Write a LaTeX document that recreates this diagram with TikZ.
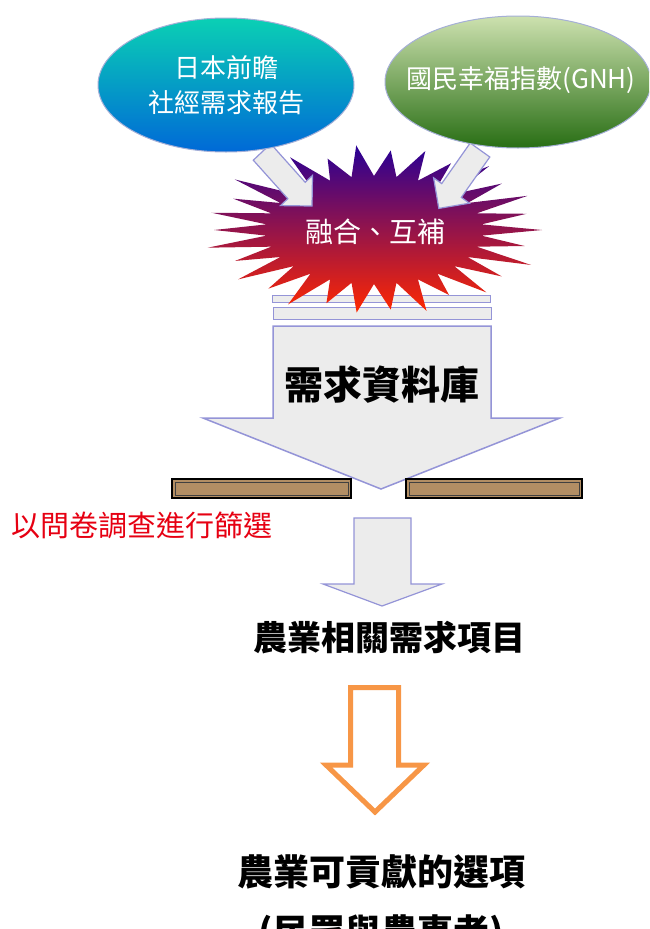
\documentclass[tikz,border=0pt]{standalone}
\usepackage{fontspec}
\newfontfamily\cjk{Noto Sans CJK TC}
\usetikzlibrary{shapes.geometric}
\definecolor{arrfill}{RGB}{236,236,236}
\definecolor{arredge}{RGB}{148,148,215}
\definecolor{elledge}{RGB}{165,175,215}
\definecolor{bluetop}{RGB}{10,208,180}
\definecolor{bluemid}{RGB}{20,180,225}
\definecolor{bluebot}{RGB}{0,105,215}
\definecolor{greentop}{RGB}{205,225,175}
\definecolor{greenmid}{RGB}{125,165,75}
\definecolor{greenbot}{RGB}{40,110,20}
\definecolor{sbtop}{RGB}{40,0,150}
\definecolor{sbmid}{RGB}{140,0,160}
\definecolor{sbbot}{RGB}{255,40,0}
\definecolor{brownbar}{RGB}{178,142,100}
\definecolor{orangearr}{RGB}{247,150,70}
\definecolor{redtext}{RGB}{230,0,18}
\tikzset{
  blockarr/.style={fill=arrfill, draw=arredge, line width=1.2pt, line join=miter},
  thinbar/.style={fill=arrfill, draw=arredge, line width=1pt},
  brownbox/.style={fill=brownbar, draw=black, line width=1.4pt},
  ellbox/.style={ellipse, draw=elledge, line width=1pt, inner sep=0pt},
  elltext/.style={text=white, align=center, inner sep=0pt, font=\cjk\fontsize{26}{35}\selectfont},
  bigtext/.style={font=\cjk\bfseries\fontsize{36}{40}\selectfont, text=black, inner sep=0pt}
}
\begin{document}
\begin{tikzpicture}[x=1pt,y=-1pt]
\useasboundingbox (0,0) rectangle (649,929);
\clip (0,0) rectangle (649,929);
% thin bars under the starburst
\filldraw[thinbar] (272,295) rectangle (490,302);
\filldraw[thinbar] (273,307) rectangle (491,319);
% starburst
\begin{scope}[shift={(374,230)},xscale=2]
\shade[top color=sbtop, middle color=sbmid, bottom color=sbbot]
  (0:84) \foreach \r [count=\i] in {77,86,79,84,75,85,80,83,77,86,79,84,76,85,80,83,77,86,79,84,75,85,80,83,77,86,79,84,78}
  { -- ({\i*12-6}:54) -- ({\i*12}:\r) } -- (354:54) -- cycle;
\end{scope}
\node[font=\cjk\fontsize{28}{30}\selectfont, text=white] (fuse) at (375,232) {融合、互補};
% small diagonal arrows
\filldraw[blockarr] (312,206) -- (312.5,175.4) -- (305.2,182.3) -- (270.7,143.8) -- (253.3,160.2) -- (287.8,198.7) -- (280.5,205.6) -- cycle;
\filldraw[blockarr] (438.8,208.4) -- (469.4,203.2) -- (461.3,197.4) -- (489.8,157) -- (470.2,143) -- (441.7,183.6) -- (433.6,177.8) -- cycle;
% ellipses
\node[ellbox, minimum width=256pt, minimum height=134pt, top color=bluetop, middle color=bluemid, bottom color=bluebot] (jp) at (226,85) {};
\node[elltext] (jptext) at (jp.center) {日本前瞻\\社經需求報告};
\node[ellbox, minimum width=266pt, minimum height=132pt, top color=greentop, middle color=greenmid, bottom color=greenbot] (gnh) at (518,82) {};
\node[elltext] (gnhtext) at (521,80) {國民幸福指數(GNH)};
% big arrow
\filldraw[blockarr, line width=1.5pt] (273,326) -- (491,326) -- (491,418) -- (560,418) -- (381,489) -- (203,418) -- (273,418) -- cycle;
\node[bigtext, font=\cjk\bfseries\fontsize{39}{42}\selectfont] (db) at (382,385) {需求資料庫};
% brown bars
\filldraw[brownbox] (172,479) rectangle (351,498);
\draw[black!75, line width=0.6pt] (175,482) rectangle (348,495);
\filldraw[brownbox] (406,479) rectangle (582,498);
\draw[black!75, line width=0.6pt] (409,482) rectangle (579,495);
% red text
\node[font=\cjk\fontsize{29}{32}\selectfont, text=redtext, inner sep=0pt] (survey) at (142,525) {以問卷調查進行篩選};
% small arrow
\filldraw[blockarr] (354,518) -- (411,518) -- (411,584) -- (442,584) -- (382,606) -- (323,584) -- (354,584) -- cycle;
\node[bigtext, font=\cjk\bfseries\fontsize{34}{38}\selectfont] (agri) at (389,638) {農業相關需求項目};
% orange arrow
\draw[orangearr, fill=white, line width=5pt, line join=miter] (350.5,687.5) -- (398.5,687.5) -- (398.5,765) -- (424,765) -- (375,812) -- (326,765) -- (350.5,765) -- cycle;
\node[bigtext] (opt) at (381,872) {農業可貢獻的選項};
\node[bigtext] (who) at (381,934) {(民眾與農事者)};
\end{tikzpicture}
\end{document}
